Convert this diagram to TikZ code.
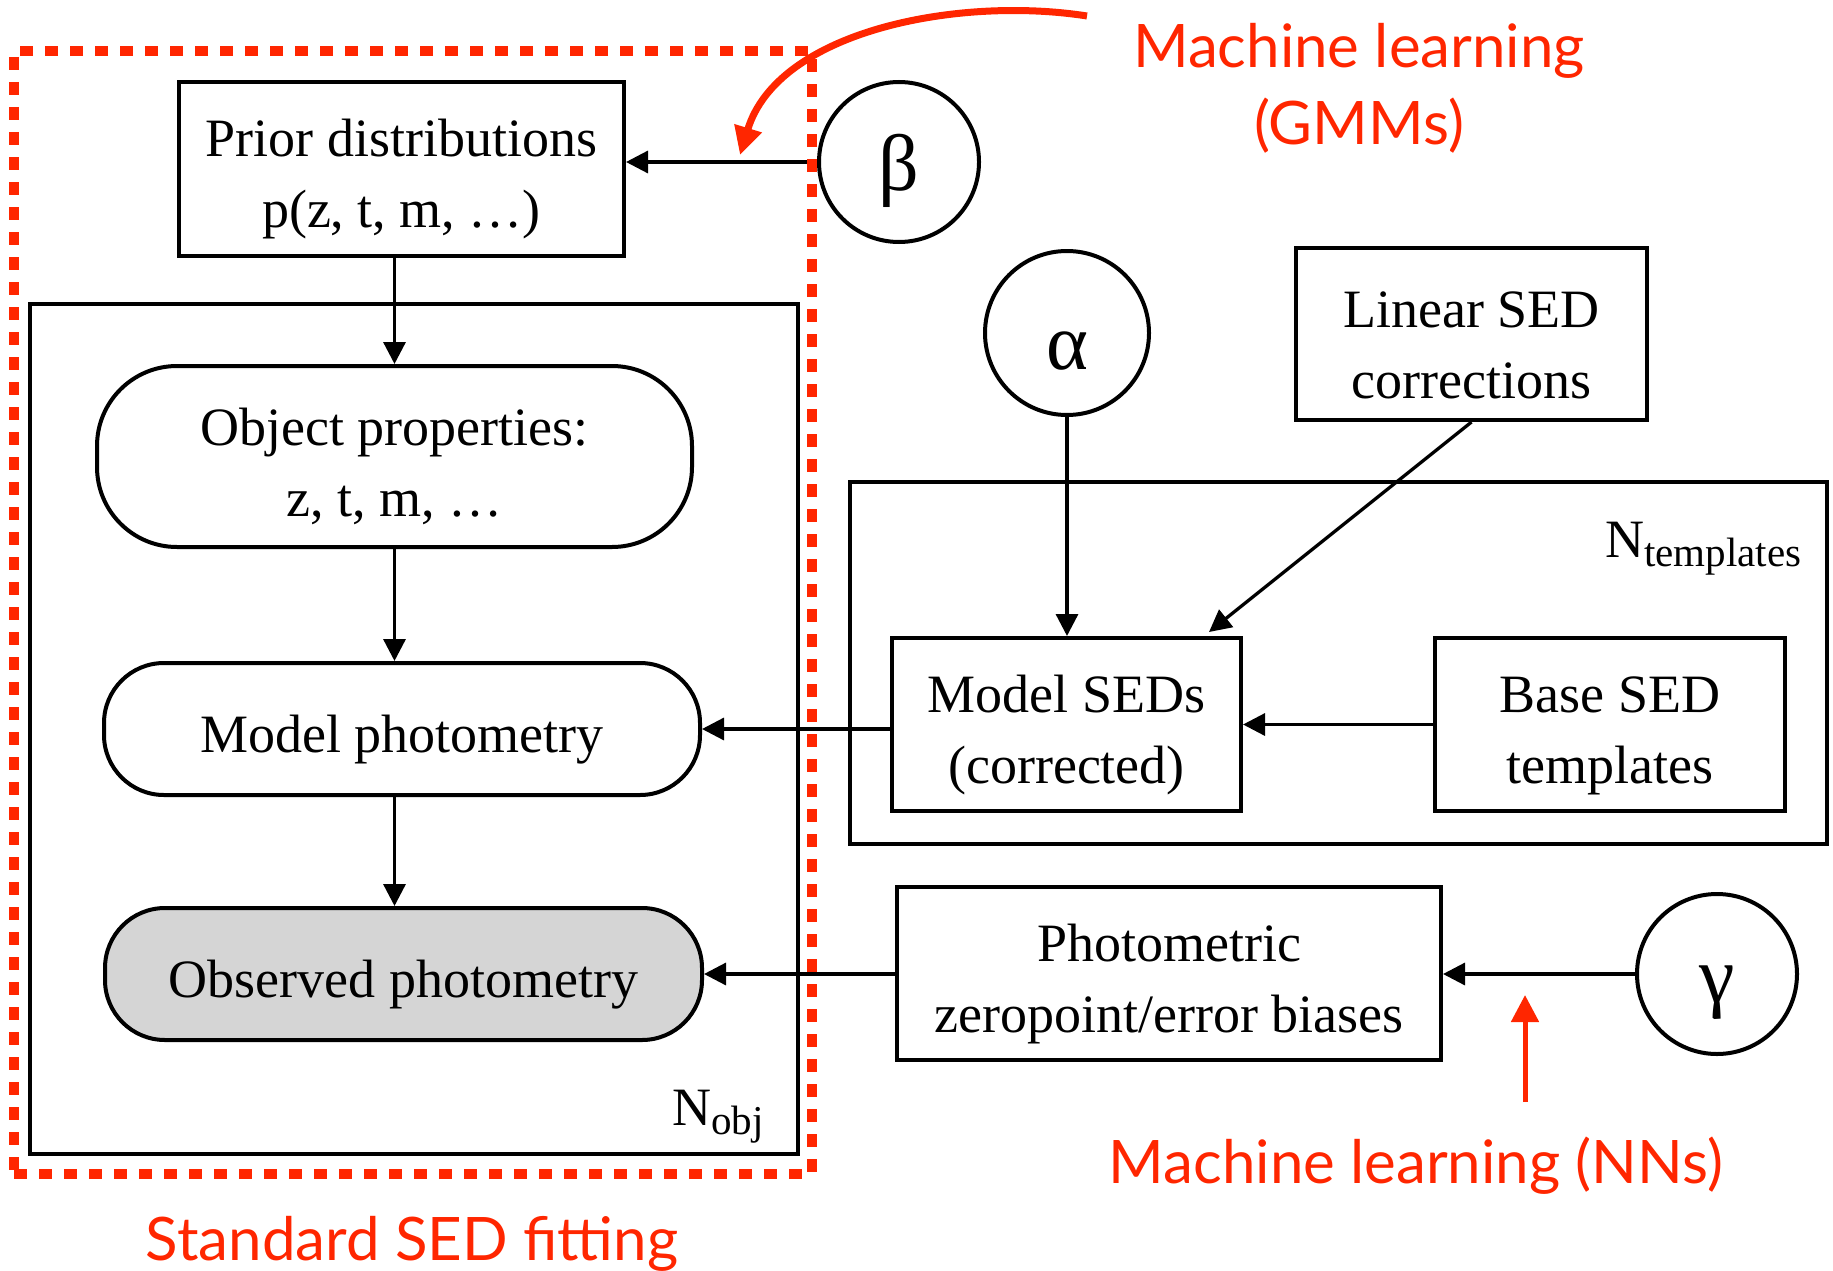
\documentclass[tikz,border=0pt]{standalone}
\usepackage{fontspec}
\setmainfont{Liberation Serif}
\newfontfamily\redfont{Lato}
\usetikzlibrary{arrows.meta,calc}
\definecolor{mlred}{RGB}{255,38,0}
\definecolor{obsgray}{RGB}{213,213,213}
\newcommand{\tup}{\rule{0pt}{58pt}}
\begin{document}
\begin{tikzpicture}[x=1pt,y=-1pt,
  txt/.style={font=\fontsize{54}{71}\selectfont, align=center, inner sep=0pt},
  boxnode/.style={txt, draw, line width=4pt},
  pill/.style={txt, draw, line width=4pt},
  plate/.style={draw, line width=4pt, inner sep=0pt},
  param/.style={circle, draw, line width=4pt, minimum size=160pt, inner sep=0pt, font=\fontsize{80}{80}\selectfont, execute at begin node={\rule{0pt}{74pt}}},
  conn/.style={line width=3.3pt, -{Triangle[length=22pt,width=22pt]}},
  redtxt/.style={text=mlred, font=\redfont\fontsize{60}{76}\selectfont, align=center, inner sep=0pt},
  platelabel/.style={font=\fontsize{54}{54}\selectfont, inner sep=0pt, anchor=base west}
]
\useasboundingbox (0,0) rectangle (1833,1271);

% plates
\node[plate, minimum width=768pt, minimum height=850pt] (nobj) at (414,729) {};
\node[plate, minimum width=977pt, minimum height=362pt] (ntpl) at (1338.5,663) {};
\node[platelabel] (nobjlab) at (672,1125) {N\raisebox{-9pt}{\fontsize{41}{41}\selectfont obj}};
\node[platelabel] (ntpllab) at (1605,557) {N\raisebox{-9pt}{\fontsize{41}{41}\selectfont templates}};

% left column
\node[boxnode, minimum width=445pt, minimum height=174pt] (prior) at (401.5,169) {\tup Prior distributions\\p(z, t, m, …)};
\node[pill, rounded corners=80pt, minimum width=595pt, minimum height=181pt] (obj) at (394.5,456.5) {\tup Object properties:\\z, t, m, …};
\node[pill, rounded corners=60pt, minimum width=596pt, minimum height=132pt] (mph) at (402,729) {\tup Model photometry};
\node[pill, rounded corners=60pt, fill=obsgray, minimum width=597pt, minimum height=132pt] (obs) at (403.5,974) {\tup Observed photometry};

% right side
\node[param] (beta) at (899,162) {β};
\node[param, minimum size=164pt] (alpha) at (1067,333) {α};
\node[param] (gamma) at (1717,974) {γ};
\node[boxnode, minimum width=351pt, minimum height=172pt] (lin) at (1471.5,334) {\tup Linear SED\\corrections};
\node[boxnode, minimum width=349pt, minimum height=173pt] (msed) at (1066.5,724.5) {\tup Model SEDs\\(corrected)};
\node[boxnode, minimum width=350pt, minimum height=173pt] (base) at (1610,724.5) {\tup Base SED\\templates};
\node[boxnode, minimum width=544pt, minimum height=173pt] (phot) at (1169,973.5) {\tup Photometric\\zeropoint/error biases};

% connectors
\draw[conn] (obj.north |- prior.south) -- (obj.north);
\draw[conn] (obj.south) -- (obj.south |- mph.north);
\draw[conn] (obj.south |- mph.south) -- (obj.south |- obs.north);
\draw[conn] (beta.west) -- (beta.west -| prior.east);
\draw[conn] (alpha.south) -- (alpha.south |- msed.north);
\coordinate (lintip) at (1209,632);
\draw[conn] (lin.south) -- (lintip);
\draw[conn] (base.west) -- (base.west -| msed.east);
\draw[conn] (msed.west |- mph.east) -- (mph.east);
\draw[conn] (phot.west |- obs.east) -- (obs.east);
\draw[conn] (gamma.west) -- (gamma.west -| phot.east);

% standard SED fitting frame
\node[draw=mlred, line width=10pt, dash pattern=on 13pt off 12pt, minimum width=798pt, minimum height=1123pt, inner sep=0pt] (std) at (413,612.5) {};

% machine learning annotations
\coordinate (gmmstart) at (1087,16);
\coordinate (gmmtip) at (740,155);
\draw[mlred, line width=7pt, -{Triangle[length=28pt,width=27pt]}] (gmmstart) .. controls (960,-4) and (778,30) .. (gmmtip);
\coordinate (nnstart) at (1525,1102);
\coordinate (nntip) at (1525,995);
\draw[mlred, line width=5pt, -{Triangle[length=27pt,width=27pt]}] (nnstart) -- (nntip);

\node[redtxt, anchor=base] (gmmlab) at (1359,68) {Machine learning};
\node[redtxt, anchor=base] (gmmlab2) at (1359,145) {(GMMs)};
\node[redtxt, anchor=base] (nnlab) at (1416,1183) {Machine learning (NNs)};
\node[redtxt, anchor=base] (stdlab) at (412,1260) {Standard SED fitting};
\end{tikzpicture}
\end{document}
